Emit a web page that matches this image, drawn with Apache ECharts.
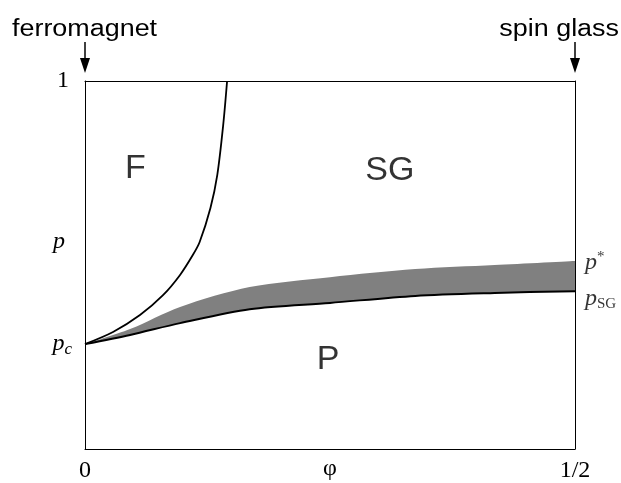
<!DOCTYPE html>
<html>
<head>
<meta charset="utf-8" />
<title>phase diagram</title>
<script src="https://cdn.jsdelivr.net/npm/echarts@6/dist/echarts.min.js"></script>
<style>
  html, body { margin: 0; padding: 0; background: #fff; }
  #main { width: 621px; height: 483px; }
</style>
</head>
<body>
<div id="main"></div>
<script type="text/javascript">
// values (phi, p)
var pc = 0.285;
var ferroLine = [[0, 0.285], [0.0286, 0.318], [0.0561, 0.364], [0.0796, 0.418], [0.097, 0.473],
                 [0.110, 0.527], [0.117, 0.5625], [0.128, 0.655], [0.135, 0.745], [0.141, 0.880], [0.145, 1.0]];
// p_SG and p* read at the same phi positions
var phiBand = [0, 0.046, 0.097, 0.168, 0.25, 0.337, 0.418, 0.5];
var pSG =     [0.285, 0.310, 0.342, 0.380, 0.397, 0.416, 0.424, 0.429];
var pStar =   [0.285, 0.326, 0.386, 0.440, 0.467, 0.489, 0.500, 0.511];
var regionLabels = [[0.0515, 0.761, 'F'], [0.311, 0.757, 'SG'], [0.248, 0.242, 'P']];
var xTickLabels = {0: '0', 0.5: '1/2'};
var yTickValues = [pc, 0.5625, 1];

var serif = '"Liberation Serif", "DejaVu Serif", serif';
var sans = '"Liberation Sans", Arial, sans-serif';

var pSGData = phiBand.map(function (x, i) { return [x, pSG[i]]; });
var pStarData = phiBand.map(function (x, i) { return [x, pStar[i]]; });

var myChart = echarts.init(document.getElementById('main'));

// box edges drawn as axis lines above the filled areas
var edge = {axisLine: {onZero: false, lineStyle: {color: '#000', width: 1}}, axisTick: {show: false},
            axisLabel: {show: false}, splitLine: {show: false}, z: 10};

var option = {
    animation: false,
    grid: {
        left: 85, right: 46, top: 81, bottom: 34,
        outerBoundsMode: 'none', containLabel: false
    },
    xAxis: [{
        type: 'value', min: 0, max: 0.5, interval: 0.5, z: 10,
        name: 'φ', nameLocation: 'middle', nameGap: 8, nameMoveOverlap: false,
        nameTextStyle: {fontFamily: serif, fontSize: 24, color: '#000', verticalAlign: 'top'},
        axisLine: {onZero: false, lineStyle: {color: '#000', width: 1}},
        axisTick: {show: false},
        splitLine: {show: false},
        axisLabel: {
            margin: 10, color: '#000', fontFamily: serif, fontSize: 24,
            formatter: function (v) { return xTickLabels[v]; }
        }
    }, Object.assign({type: 'value', min: 0, max: 0.5, position: 'top'}, edge)],
    yAxis: [{
        type: 'value', min: 0, max: 1, z: 10,
        axisLine: {onZero: false, lineStyle: {color: '#000', width: 1}},
        axisTick: {show: false},
        splitLine: {show: false},
        axisLabel: {
            customValues: yTickValues,
            margin: 13, color: '#000', fontFamily: serif, fontSize: 24,
            formatter: function (v) {
                if (v === 1) return '{n|1}';
                if (v === pc) return '{i|p}{s|c}';
                return '{j|p}';
            },
            rich: {
                n: {fontFamily: serif, fontSize: 24, color: '#000', padding: [0, 3, 0, 0]},
                i: {fontFamily: serif, fontStyle: 'italic', fontSize: 24, color: '#000'},
                j: {fontFamily: serif, fontStyle: 'italic', fontSize: 24, color: '#000', padding: [0, 7, 0, 0]},
                s: {fontFamily: serif, fontStyle: 'italic', fontSize: 17, color: '#000', padding: [10, 0, 0, 0]}
            }
        }
    }, Object.assign({type: 'value', min: 0, max: 1, position: 'right'}, edge)],
    graphic: [
        {type: 'text', x: 12, y: 30, scaleX: 1.17,
         style: {text: 'ferromagnet', font: '23px ' + sans, fill: '#000', verticalAlign: 'middle'}},
        {type: 'text', x: 619, y: 30, scaleX: 1.17,
         style: {text: 'spin glass', font: '23px ' + sans, fill: '#000', align: 'right', verticalAlign: 'middle'}},
        {type: 'line', shape: {x1: 85, y1: 42, x2: 85, y2: 60}, style: {stroke: '#000', lineWidth: 1.5}},
        {type: 'polygon', shape: {points: [[80, 58], [90, 58], [85, 73]]}, style: {fill: '#000'}},
        {type: 'line', shape: {x1: 575, y1: 42, x2: 575, y2: 60}, style: {stroke: '#000', lineWidth: 1.5}},
        {type: 'polygon', shape: {points: [[570, 58], [580, 58], [575, 73]]}, style: {fill: '#000'}}
    ],
    series: [
        {
            // gray fill below p*
            type: 'line', data: pStarData, smooth: 0.3, symbol: 'none',
            lineStyle: {width: 0, opacity: 0},
            areaStyle: {color: '#808080', opacity: 1, origin: 'start'}, z: 1
        },
        {
            // white mask below p_SG, leaving the band between p_SG and p*
            type: 'line', data: pSGData, smooth: 0.3, symbol: 'none',
            lineStyle: {width: 0, opacity: 0},
            areaStyle: {color: '#fff', opacity: 1, origin: 'start'}, z: 2
        },
        {
            type: 'line', data: pSGData, smooth: 0.3, symbol: 'none',
            lineStyle: {color: '#000', width: 2}, z: 4
        },
        {
            type: 'line', data: ferroLine, smooth: 0.3, symbol: 'none',
            lineStyle: {color: '#000', width: 1.8}, z: 4
        },
        {
            type: 'scatter', symbolSize: 0, silent: true, z: 5,
            data: regionLabels,
            label: {
                show: true, position: 'inside', color: '#000', fontFamily: sans, fontSize: 34,
                formatter: function (p) { return p.data[2]; }
            }
        },
        {
            type: 'scatter', symbolSize: 0, silent: true, z: 5,
            data: [
                {value: pStarData[pStarData.length - 1], label: {formatter: '{i|p}{t|*}', offset: [4, 2]}},
                {value: pSGData[pSGData.length - 1], label: {formatter: '{i|p}{s|SG}', offset: [4, 8]}}
            ],
            label: {
                show: true, position: 'right', distance: 6,
                rich: {
                    i: {fontFamily: serif, fontStyle: 'italic', fontSize: 24, color: '#000'},
                    t: {fontFamily: serif, fontSize: 15, color: '#000', padding: [0, 0, 12, 0]},
                    s: {fontFamily: serif, fontSize: 15, color: '#000', padding: [10, 0, 0, 0]}
                }
            }
        }
    ]
};
myChart.setOption(option);
</script>
</body>
</html>
